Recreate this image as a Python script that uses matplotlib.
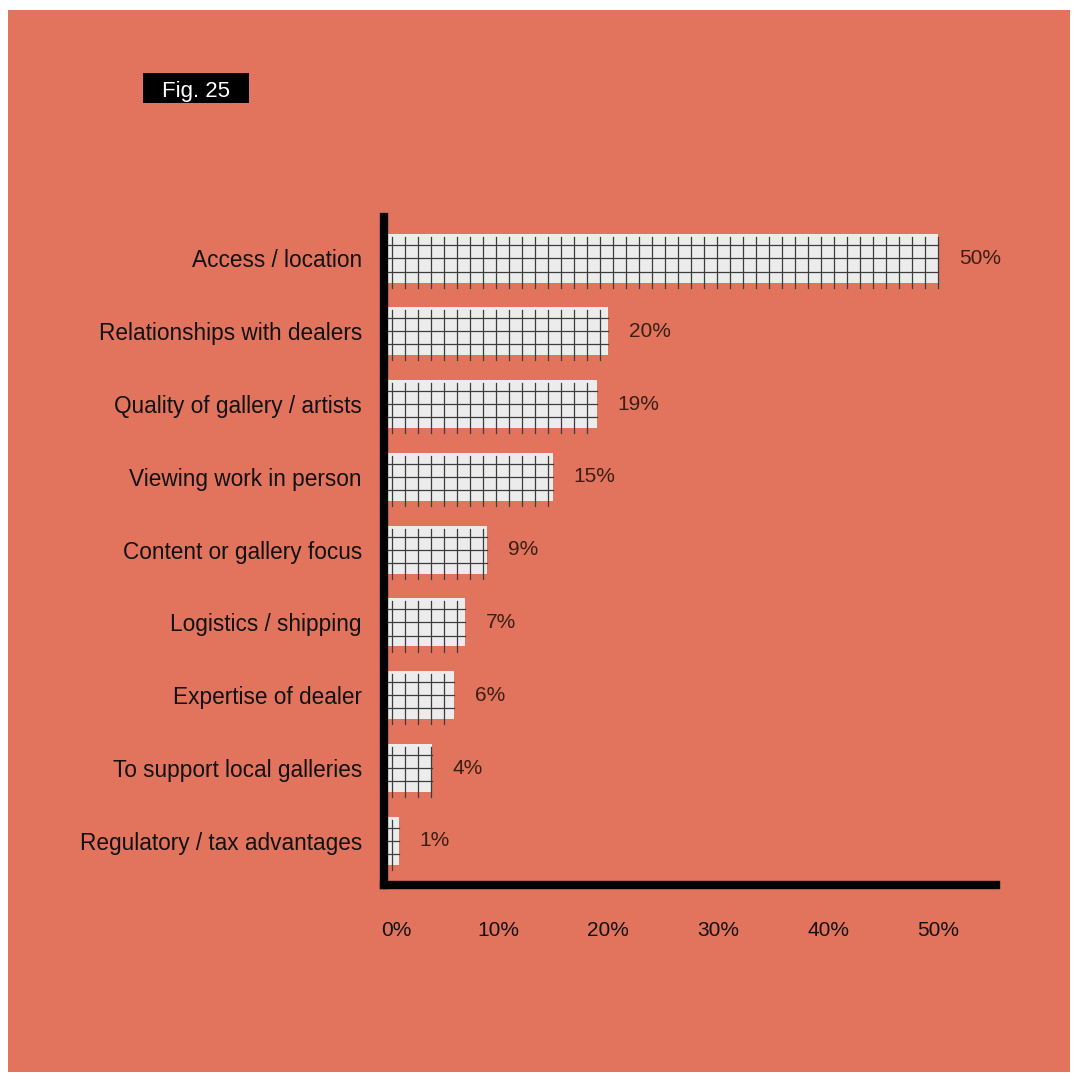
import numpy as np
import matplotlib
matplotlib.use("Agg")
import matplotlib.pyplot as plt
import matplotlib.transforms as mtransforms
from matplotlib.patches import Rectangle

categories = ["Access / location", "Relationships with dealers", "Quality of gallery / artists",
              "Viewing work in person", "Content or gallery focus", "Logistics / shipping",
              "Expertise of dealer", "To support local galleries", "Regulatory / tax advantages"]
values = [50, 20, 19, 15, 9, 7, 6, 4, 1]
tick_values = [0, 10, 20, 30, 40, 50]
tick_labels = ["0%", "10%", "20%", "30%", "40%", "50%"]

plt.rcParams['font.family'] = ['Liberation Sans', 'DejaVu Sans']

W, H = 1078, 1080
bg = '#E2735D'
fig = plt.figure(figsize=(W / 100, H / 100), dpi=100, facecolor='white')
fig.patches.append(Rectangle((8 / W, 1 - 1072 / H), (1070 - 8) / W, (1072 - 10) / H,
                             transform=fig.transFigure, facecolor=bg, edgecolor='none', zorder=-2))

# Fig. label
fig.patches.append(Rectangle((143 / W, 1 - 103 / H), 106 / W, 30 / H,
                             transform=fig.transFigure, facecolor='black', edgecolor='none', zorder=-1))
fig.text(196 / W, 1 - 89 / H, "Fig. 25", color='white', fontsize=16, ha='center', va='center_baseline')

left, right, bottom, top = 384, 996, 884.5, 217
ax = fig.add_axes([left / W, 1 - bottom / H, (right - left) / W, (bottom - top) / H])
ax.set_facecolor('none')
ax.set_zorder(3)

y = np.arange(len(categories))
h = 0.66
ax.barh(y, values, height=h, color='#ECECEC', edgecolor='none', zorder=2)

# grid pattern inside each bar
for yi, v in zip(y, values):
    for xg in np.arange(0.4, v, 1.18):
        ax.plot([xg, xg], [yi - 0.29, yi + 0.40], color='#3c3c3c', lw=0.9, zorder=3)
    for dy in (-0.18, 0, 0.18):
        ax.plot([0, v], [yi + dy, yi + dy], color='#3c3c3c', lw=0.9, zorder=3)
    ax.annotate(f"{v}%", (v, yi), xytext=(15, 0), textcoords='offset points',
                va='center', ha='left', fontsize=15, color='#3a1e14')

ax.set_xlim(-0.36, 55.27)
ax.set_ylim(8.6, -0.57)

ax.set_yticks(y)
ax.set_yticklabels(categories, fontsize=16.3, color='#111111')
ax.set_xticks(tick_values)
ax.set_xticklabels(tick_labels, fontsize=15, color='#111111')
ax.tick_params(axis='y', length=0, pad=16)
ax.tick_params(axis='x', length=0, pad=26)
lbl0 = ax.get_xticklabels()[0]
lbl0.set_transform(lbl0.get_transform() + mtransforms.ScaledTranslation(8 / 100, 0, fig.dpi_scale_trans))

for s in ['top', 'right']:
    ax.spines[s].set_visible(False)
for s in ['left', 'bottom']:
    ax.spines[s].set_linewidth(6)
    ax.spines[s].set_color('black')
    ax.spines[s].set_capstyle('projecting')

fig.savefig('out.png', dpi=100, facecolor='white')
